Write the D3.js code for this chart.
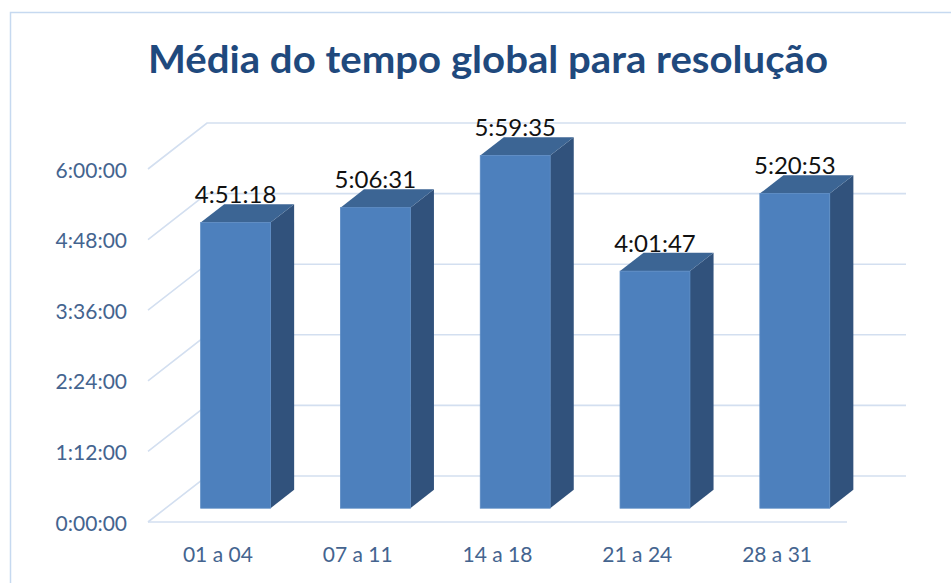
<!DOCTYPE html>
<html>
<head>
<meta charset="utf-8">
<script src="https://cdn.jsdelivr.net/npm/d3@7"></script>
<style>
  body { margin: 0; background: #fff; }
  svg { display: block; }
</style>
</head>
<body>
<svg width="951" height="583"></svg>
<script>
// chart data
const categories = ['01 a 04', '07 a 11', '14 a 18', '21 a 24', '28 a 31'];
const values = ['4:51:18', '5:06:31', '5:59:35', '4:01:47', '5:20:53'];
const tickLabels = ['0:00:00', '1:12:00', '2:24:00', '3:36:00', '4:48:00', '6:00:00'];
const title = 'Média do tempo global para resolução';

function toSec(s) {
  const p = s.split(':').map(Number);
  return p[0] * 3600 + p[1] * 60 + p[2];
}

function drawChart() {
  const svg = d3.select('svg');
  const font = 'Lato, "Open Sans", sans-serif';

  // chart area border
  svg.append('rect')
    .attr('x', 10.5).attr('y', 12.5)
    .attr('width', 1000).attr('height', 1000)
    .attr('fill', 'none').attr('stroke', '#c6d9f0').attr('stroke-width', 1.5);

  // scales on the front plane
  const x = d3.scaleBand().domain(categories).range([148, 847])
    .paddingInner(0.5).paddingOuter(0.25);
  const y = d3.scaleLinear().domain([0, toSec('6:00:00')]).range([522, 169]);

  // depth projection (0 = front, 1 = back wall)
  const DX = 59, DY = -46;
  const px = (xv, d) => xv + d * DX;
  const py = (yv, d) => yv + d * DY;

  const ticks = tickLabels.map(toSec);
  const grid = svg.append('g').attr('stroke', '#d3dff0').attr('stroke-width', 1.6).attr('fill', 'none');

  // back wall gridlines + left side slants
  ticks.forEach(t => {
    const yy = y(t);
    grid.append('path').attr('d',
      `M${x.range()[0]},${yy}L${px(x.range()[0], 1)},${py(yy, 1)}L${px(x.range()[1], 1)},${py(yy, 1)}`);
  });
  // front floor edge
  grid.append('line')
    .attr('x1', x.range()[0]).attr('x2', x.range()[1])
    .attr('y1', y(0)).attr('y2', y(0));

  // y tick labels
  svg.append('g').selectAll('text').data(tickLabels).join('text')
    .attr('x', 127).attr('y', d => y(toSec(d)))
    .attr('text-anchor', 'end').attr('dominant-baseline', 'central')
    .attr('font-family', font).attr('font-size', 21).attr('fill', '#44648f')
    .text(d => d);

  // bars
  const d0 = 0.3, d1 = 0.7;
  const bars = svg.append('g');
  categories.forEach((c, i) => {
    const v = toSec(values[i]);
    const xl = x(c), xr = x(c) + x.bandwidth();
    const yt = y(v), yb = y(0);
    const g = bars.append('g');
    // right side
    g.append('path').attr('fill', '#31527c').attr('d',
      `M${px(xr, d0)},${py(yt, d0)}L${px(xr, d1)},${py(yt, d1)}L${px(xr, d1)},${py(yb, d1)}L${px(xr, d0)},${py(yb, d0)}Z`);
    // top
    g.append('path').attr('fill', '#3c6594').attr('d',
      `M${px(xl, d0)},${py(yt, d0)}L${px(xl, d1)},${py(yt, d1)}L${px(xr, d1)},${py(yt, d1)}L${px(xr, d0)},${py(yt, d0)}Z`);
    // front
    g.append('rect').attr('fill', '#4d80bd')
      .attr('stroke', '#5a8ac4').attr('stroke-width', 0.8)
      .attr('x', px(xl, d0)).attr('y', py(yt, d0))
      .attr('width', x.bandwidth()).attr('height', yb - yt);
    // value label
    g.append('text')
      .attr('x', px(xl, d0) + x.bandwidth() / 2).attr('y', py(yt, d1) - 1)
      .attr('text-anchor', 'middle')
      .attr('font-family', font).attr('font-size', 24).attr('fill', '#111')
      .text(values[i]);
  });

  // category labels
  svg.append('g').selectAll('text').data(categories).join('text')
    .attr('x', d => x(d) + x.bandwidth() / 2).attr('y', 562)
    .attr('text-anchor', 'middle')
    .attr('font-family', font).attr('font-size', 21).attr('fill', '#44648f')
    .text(d => d);

  // title: taller glyphs squeezed to the reference width (Calibri-like)
  svg.append('text')
    .attr('x', 148).attr('y', 73)
    .attr('textLength', 680).attr('lengthAdjust', 'spacingAndGlyphs')
    .attr('font-family', font).attr('font-weight', 'bold')
    .attr('font-size', 38).attr('fill', '#1f497d')
    .text(title);
}

window.onload = drawChart;
</script>
</body>
</html>
